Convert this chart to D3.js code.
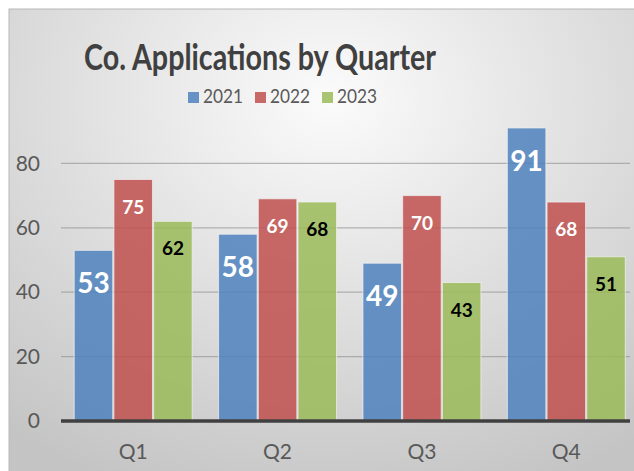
<!doctype html>
<html lang="en">

<head>
  <meta charset="utf-8">
  <title>Co. Applications by Quarter - D3</title>
  <style>
    html, body { margin: 0; padding: 0; background: #fff; }
    svg { display: block; font-family: Lato, "Open Sans", sans-serif; }
  </style>
</head>

<body>
  <svg></svg>

  <script src="https://cdn.jsdelivr.net/npm/d3@7/dist/d3.min.js"></script>
  <script>
    // data
    var quarters = ['Q1', 'Q2', 'Q3', 'Q4'];
    var years = ['2021', '2022', '2023'];
    var apps2021 = [53, 58, 49, 91];
    var apps2022 = [75, 69, 70, 68];
    var apps2023 = [62, 68, 43, 51];
    var yTicks = [0, 20, 40, 60, 80];

    var series = [apps2021, apps2022, apps2023];
    var colors = ['#4f81bd', '#c0504d', '#9bbb59'];
    var labelColor = ['#fff', '#fff', '#000'];
    var labelSize = [28, 19, 19];
    var labelOffset = [43, 34, 34];

    var width = 634;
    var height = 471;
    var svg = d3.select('svg')
      .attr('width', width)
      .attr('height', height);

    // background gradient (wide ellipse, light near the title)
    var defs = svg.append('defs');
    var grad = defs.append('radialGradient')
      .attr('id', 'bg')
      .attr('gradientUnits', 'userSpaceOnUse')
      .attr('cx', 330).attr('cy', 100).attr('r', 420)
      .attr('gradientTransform', 'translate(330,100) scale(1.25,1) translate(-330,-100)');
    grad.append('stop').attr('offset', '0%').attr('stop-color', '#fbfbfb');
    grad.append('stop').attr('offset', '100%').attr('stop-color', '#c4c4c4');

    svg.append('rect')
      .attr('x', 9).attr('y', 9)
      .attr('width', width).attr('height', height)
      .attr('fill', 'url(#bg)')
      .attr('stroke', '#b8b8b8')
      .attr('stroke-width', 1);

    // scales
    var x = d3.scaleBand()
      .domain(quarters)
      .range([61, 638.5])
      .paddingInner(0.183)
      .paddingOuter(0.0915);
    var xs = d3.scaleBand()
      .domain(years)
      .range([0, x.bandwidth()])
      .paddingInner(0.03);
    var y = d3.scaleLinear()
      .domain([0, 100])
      .range([421, 99]);

    // grid
    svg.append('g')
      .selectAll('line').data(yTicks.filter(d => d > 0)).enter()
      .append('line')
      .attr('x1', 61).attr('x2', 630)
      .attr('y1', d => y(d)).attr('y2', d => y(d))
      .attr('stroke', '#8c8c8c')
      .attr('stroke-opacity', 0.6)
      .attr('stroke-width', 1.2);

    // y axis labels
    var yAxis = d3.axisLeft(y).tickValues(yTicks).tickSize(0).tickPadding(0);
    var gy = svg.append('g')
      .attr('transform', 'translate(40,0)')
      .call(yAxis);
    gy.select('.domain').remove();
    gy.selectAll('text')
      .attr('fill', '#595959')
      .attr('font-size', 21)
      .attr('font-family', 'Lato, sans-serif');

    // bars
    series.forEach(function (vals, s) {
      var g = svg.append('g');
      g.selectAll('rect').data(vals).enter()
        .append('rect')
        .attr('x', (v, i) => x(quarters[i]) + xs(years[s]))
        .attr('y', v => y(v))
        .attr('width', xs.bandwidth())
        .attr('height', v => y(0) - y(v))
        .attr('fill', colors[s])
        .attr('fill-opacity', 0.85)
        .attr('stroke', '#f2f2f2')
        .attr('stroke-opacity', 0.7)
        .attr('stroke-width', 1);

      g.selectAll('text').data(vals).enter()
        .append('text')
        .text(v => v)
        .attr('x', (v, i) => x(quarters[i]) + xs(years[s]) + xs.bandwidth() / 2)
        .attr('y', v => y(v) + labelOffset[s])
        .attr('text-anchor', 'middle')
        .attr('font-weight', 'bold')
        .attr('font-size', labelSize[s])
        .attr('fill', labelColor[s]);
    });

    // x axis
    var xAxis = d3.axisBottom(x).tickSize(0).tickPadding(23);
    var gx = svg.append('g')
      .attr('transform', 'translate(0,' + y(0) + ')')
      .call(xAxis);
    gx.select('.domain').remove();
    gx.selectAll('text')
      .attr('fill', '#595959')
      .attr('font-size', 21)
      .attr('font-family', 'Lato, sans-serif');
    svg.append('line')
      .attr('x1', 61).attr('x2', 630)
      .attr('y1', y(0)).attr('y2', y(0))
      .attr('stroke', '#404040')
      .attr('stroke-width', 3.5);

    // title
    svg.append('text')
      .text('Co. Applications by Quarter')
      .attr('x', 260)
      .attr('y', 70)
      .attr('text-anchor', 'middle')
      .attr('font-weight', 'bold')
      .attr('font-size', 37)
      .attr('fill', '#404040')
      .attr('textLength', 352)
      .attr('lengthAdjust', 'spacingAndGlyphs');

    // legend
    var legend = svg.append('g').attr('transform', 'translate(188,92)');
    var lx = 0;
    years.forEach(function (yr, s) {
      var item = legend.append('g').attr('transform', 'translate(' + lx + ',0)');
      item.append('rect')
        .attr('width', 11).attr('height', 11)
        .attr('fill', colors[s])
        .attr('fill-opacity', 0.85);
      item.append('text')
        .text(yr)
        .attr('x', 15)
        .attr('y', 11)
        .attr('font-size', 20)
        .attr('fill', '#595959')
        .attr('textLength', 40)
        .attr('lengthAdjust', 'spacingAndGlyphs');
      lx += 15 + 40 + 12;
    });
  </script>
</body>

</html>
